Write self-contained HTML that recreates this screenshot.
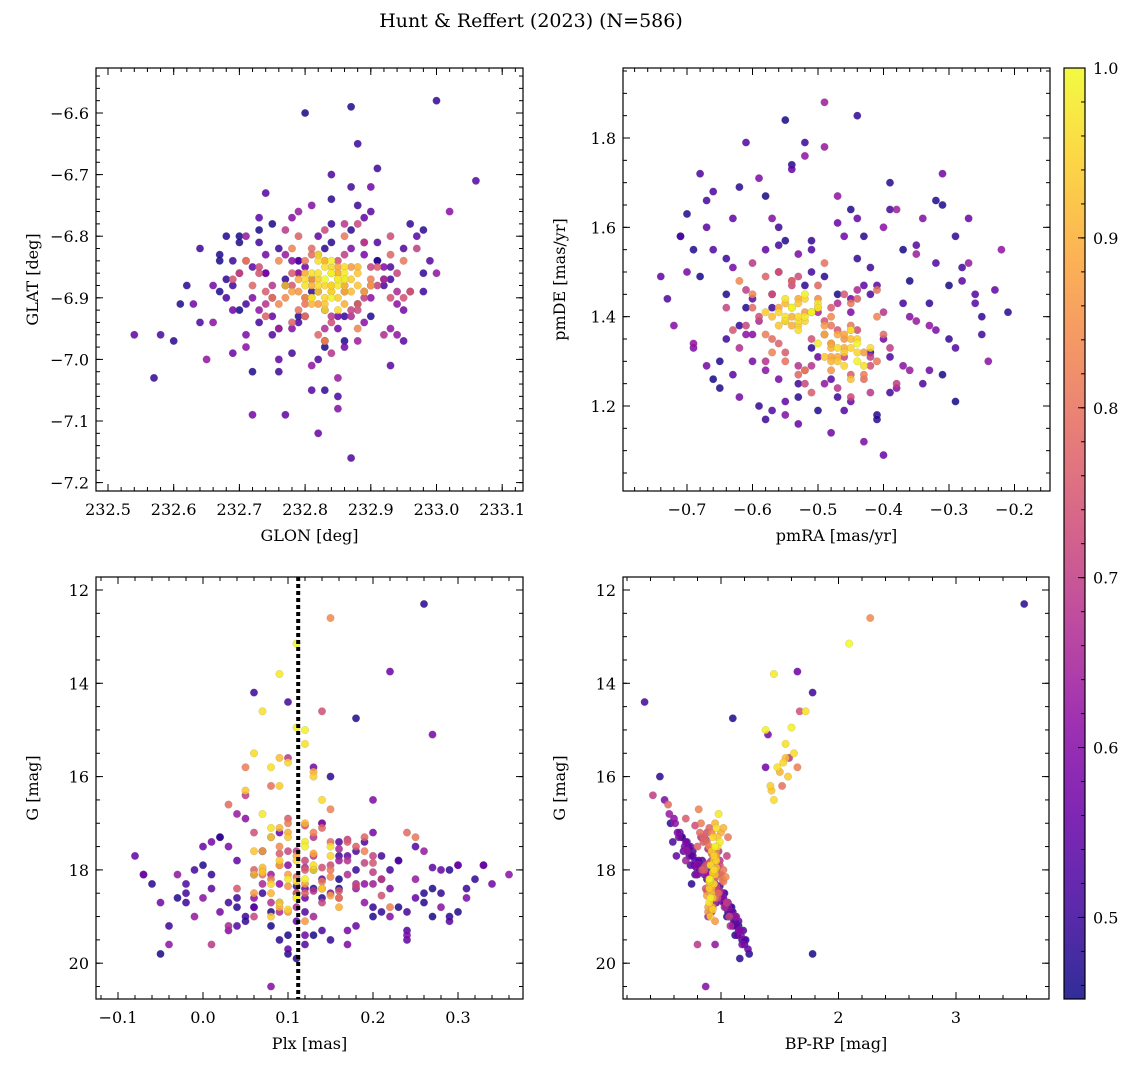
<!DOCTYPE html>
<html><head><meta charset="utf-8">
<style>
html,body{margin:0;padding:0;background:#fff;}
svg{display:block;font-family:"DejaVu Serif","Liberation Serif",serif;}
</style></head>
<body>
<svg id="fig" width="1136" height="1067" viewBox="0 0 1136 1067" xmlns="http://www.w3.org/2000/svg">
<text x="531" y="27" font-size="19" text-anchor="middle">Hunt &amp; Reffert (2023) (N=586)</text>
</svg>
<script>
// ---- batch 1 ----
const prob = [1.0,0.98,0.97,0.99,0.96,0.95,0.97,0.94,0.93,0.99,0.92,0.96,0.98,0.91,0.90,0.95,0.97,0.93,0.89,0.94,0.96,0.92,0.88,0.99,0.95,0.91,0.87,0.93,0.97,0.90,0.86,0.94,0.98,0.89,0.92,0.96,0.88,0.91,0.95,0.87,
0.84,0.82,0.80,0.78,0.76,0.83,0.79,0.74,0.72,0.81,0.77,0.70,0.75,0.73,0.68,0.80,0.71,0.69,0.66,0.78,0.74,0.67,0.82,0.70,0.76,0.65,0.72,0.79,0.68,0.73,0.84,0.66,0.71,0.77,0.69,0.75,0.81,0.67,0.74,0.70,
0.55,0.48,0.62,0.51,0.47,0.58,0.53,0.49,0.60,0.46,0.56,0.52,0.64,0.50,0.47,0.59,0.54,0.48,0.61,0.53,0.49,0.57,0.46,0.63,0.51,0.55,0.48,0.60,0.52,0.47,0.58,0.50,0.62,0.54,0.49,0.56,0.46,0.59,0.51,0.53,0.48,0.61,0.55,0.47,0.57,0.50,0.64,0.52,0.49,0.58,0.46,0.54,0.60,0.48,0.56,0.51,0.63,0.47,0.53,0.59,0.50,0.55,0.48,0.62,0.52,0.46,0.57,0.49,0.61,0.54,0.47,0.58,0.51,0.56,0.48,0.60,0.53,0.46,0.59,0.50,0.55,0.49,0.62,0.52,0.47,0.57,0.54,0.48,0.61,0.50];
const glon = [232.83,232.85,232.81,232.84,232.86,232.82,232.80,232.87,232.83,232.84,232.85,232.82,232.81,232.86,232.79,232.84,232.83,232.88,232.80,232.85,232.82,232.86,232.78,232.84,232.83,232.81,232.87,232.85,232.82,232.89,232.80,232.84,232.86,232.83,232.77,232.85,232.81,232.88,232.84,232.90,
232.76,232.90,232.79,232.93,232.74,232.88,232.81,232.95,232.70,232.86,232.78,232.91,232.83,232.73,232.89,232.80,232.94,232.77,232.87,232.72,232.85,232.92,232.75,232.82,232.96,232.79,232.88,232.71,232.84,232.93,232.76,232.81,232.90,232.74,232.86,232.78,232.95,232.83,232.69,232.89,
232.54,232.60,232.65,232.68,232.70,232.72,232.74,232.76,232.78,232.80,232.82,232.84,232.86,232.88,232.90,232.92,232.95,232.98,233.02,233.06,232.57,232.63,232.67,232.71,232.73,232.77,232.79,232.81,232.85,232.87,232.89,232.91,232.94,232.97,233.00,232.69,232.75,232.83,232.93,232.99,232.62,232.66,232.70,232.72,232.74,232.76,232.80,232.82,232.84,232.86,232.88,232.90,232.78,232.68,232.96,232.73,232.85,232.79,232.91,232.71,232.64,232.75,232.87,232.81,232.93,232.77,232.69,232.83,232.89,232.72,232.86,232.80,232.92,232.74,232.84,232.78,232.95,232.70,232.82,232.88,232.76,232.98,232.73,232.87,232.67,232.90,232.79,232.83,232.94,232.81];
const glat = [-6.87,-6.88,-6.86,-6.90,-6.85,-6.89,-6.88,-6.87,-6.91,-6.84,-6.86,-6.88,-6.90,-6.89,-6.87,-6.85,-6.92,-6.88,-6.86,-6.90,-6.84,-6.87,-6.89,-6.86,-6.88,-6.91,-6.85,-6.87,-6.83,-6.89,-6.90,-6.88,-6.86,-6.84,-6.88,-6.92,-6.87,-6.85,-6.89,-6.88,
-6.84,-6.87,-6.92,-6.83,-6.89,-6.95,-6.82,-6.90,-6.86,-6.80,-6.94,-6.88,-6.97,-6.85,-6.81,-6.91,-6.86,-6.79,-6.93,-6.88,-6.84,-6.96,-6.90,-6.83,-6.89,-6.86,-6.92,-6.84,-6.99,-6.80,-6.91,-6.87,-6.85,-6.93,-6.78,-6.88,-6.84,-6.95,-6.87,-6.90,
-6.96,-6.97,-7.00,-6.90,-6.81,-7.09,-6.73,-6.95,-6.77,-6.60,-7.12,-6.70,-6.88,-6.65,-6.93,-6.85,-6.97,-6.79,-6.76,-6.71,-7.03,-6.91,-6.84,-6.80,-6.94,-7.09,-6.86,-6.75,-7.06,-6.59,-6.83,-6.69,-6.96,-6.80,-6.58,-6.99,-6.78,-6.92,-6.87,-6.84,-6.88,-6.94,-6.86,-7.02,-6.83,-6.82,-6.90,-7.00,-6.78,-6.98,-6.91,-6.76,-6.84,-6.87,-6.89,-6.81,-7.03,-6.93,-6.81,-6.96,-6.82,-6.90,-6.79,-7.01,-6.85,-6.88,-6.92,-7.05,-6.94,-6.85,-6.97,-6.93,-6.88,-6.86,-6.74,-6.95,-6.82,-6.80,-6.89,-6.75,-7.00,-6.86,-6.92,-7.16,-6.89,-6.72,-6.84,-6.97,-6.91,-6.87];
const pmra = [-0.54,-0.52,-0.55,-0.51,-0.53,-0.56,-0.50,-0.53,-0.54,-0.52,-0.57,-0.53,-0.51,-0.55,-0.54,-0.52,-0.50,-0.56,-0.53,-0.58,-0.47,-0.45,-0.48,-0.44,-0.46,-0.49,-0.43,-0.47,-0.45,-0.46,-0.48,-0.44,-0.50,-0.47,-0.45,-0.42,-0.46,-0.48,-0.44,-0.49,
-0.62,-0.58,-0.55,-0.50,-0.45,-0.41,-0.60,-0.56,-0.52,-0.48,-0.44,-0.39,-0.63,-0.57,-0.53,-0.49,-0.46,-0.42,-0.59,-0.54,-0.51,-0.47,-0.43,-0.61,-0.55,-0.50,-0.45,-0.40,-0.58,-0.53,-0.48,-0.44,-0.64,-0.56,-0.52,-0.47,-0.41,-0.57,-0.49,-0.38,
-0.74,-0.71,-0.69,-0.67,-0.65,-0.63,-0.61,-0.59,-0.57,-0.55,-0.53,-0.51,-0.49,-0.47,-0.45,-0.43,-0.41,-0.39,-0.37,-0.35,-0.33,-0.31,-0.29,-0.27,-0.25,-0.23,-0.21,-0.72,-0.68,-0.64,-0.60,-0.56,-0.52,-0.48,-0.44,-0.40,-0.36,-0.32,-0.28,-0.66,-0.62,-0.58,-0.54,-0.50,-0.46,-0.42,-0.38,-0.34,-0.30,-0.70,-0.66,-0.60,-0.55,-0.49,-0.44,-0.39,-0.35,-0.31,-0.26,-0.69,-0.64,-0.58,-0.53,-0.47,-0.42,-0.37,-0.33,-0.29,-0.24,-0.67,-0.61,-0.56,-0.51,-0.45,-0.41,-0.36,-0.32,-0.47,-0.53,-0.58,-0.43,-0.62,-0.49,-0.39,-0.55,-0.45,-0.63,-0.51,-0.40,-0.57];
const pmde = [1.42,1.40,1.44,1.41,1.39,1.41,1.43,1.38,1.42,1.45,1.40,1.37,1.41,1.43,1.40,1.39,1.42,1.38,1.44,1.41,1.33,1.35,1.31,1.34,1.29,1.36,1.32,1.30,1.37,1.33,1.28,1.35,1.34,1.31,1.26,1.33,1.36,1.30,1.32,1.38,
1.48,1.36,1.30,1.47,1.27,1.40,1.42,1.50,1.25,1.38,1.44,1.33,1.37,1.45,1.29,1.52,1.31,1.23,1.39,1.48,1.35,1.43,1.27,1.46,1.32,1.41,1.22,1.36,1.30,1.49,1.40,1.46,1.42,1.34,1.28,1.37,1.30,1.45,1.39,1.25,
1.49,1.58,1.34,1.66,1.24,1.51,1.79,1.20,1.62,1.84,1.16,1.55,1.88,1.22,1.64,1.12,1.47,1.70,1.29,1.56,1.43,1.72,1.21,1.52,1.36,1.46,1.41,1.38,1.72,1.45,1.30,1.60,1.76,1.26,1.53,1.09,1.48,1.37,1.51,1.55,1.69,1.28,1.73,1.19,1.58,1.32,1.64,1.25,1.35,1.50,1.26,1.44,1.18,1.49,1.62,1.23,1.39,1.65,1.45,1.33,1.35,1.55,1.22,1.67,1.45,1.55,1.28,1.58,1.30,1.60,1.42,1.26,1.50,1.21,1.18,1.40,1.52,1.45,1.54,1.17,1.47,1.38,1.25,1.31,1.57,1.44,1.27,1.33,1.60,1.42];
const plx = [0.11,0.09,0.07,0.12,0.06,0.10,0.08,0.13,0.05,0.11,0.09,0.14,0.07,0.12,0.10,0.08,0.15,0.06,0.11,0.09,0.13,0.07,0.10,0.12,0.08,0.14,0.06,0.11,0.09,0.16,0.10,0.08,0.12,0.13,0.07,0.11,0.15,0.09,0.10,0.12,
0.15,0.05,0.08,0.14,0.17,0.19,0.03,0.06,0.12,0.15,0.18,0.21,0.04,0.09,0.13,0.16,0.20,0.01,0.07,0.11,0.14,0.17,0.22,0.05,0.10,0.13,0.18,0.24,0.08,0.12,0.15,0.03,0.19,0.06,0.11,0.16,0.25,0.09,0.14,0.20,
-0.08,-0.06,-0.04,-0.02,0.00,0.02,0.04,0.06,0.08,0.10,0.12,0.14,0.16,0.18,0.20,0.22,0.24,0.26,0.28,0.30,0.32,0.34,-0.05,-0.01,0.03,0.07,0.11,0.15,0.19,0.23,0.27,0.31,-0.03,0.01,0.05,0.09,0.13,0.17,0.21,0.25,0.29,0.00,0.04,0.08,0.12,0.16,0.20,0.24,0.28,-0.07,0.02,0.06,0.10,0.14,0.18,0.22,0.26,0.30,-0.02,0.03,0.07,0.11,0.15,0.19,0.23,0.27,0.33,0.01,0.05,0.09,0.13,0.17,0.21,0.25,0.29,0.08,0.12,0.16,0.20,0.04,0.10,0.14,0.18,0.06,0.26,0.13,0.27,0.09,0.36,0.11];
const gmag = [13.15,13.8,14.6,15.0,15.5,15.7,15.8,16.0,16.3,14.95,15.6,16.5,16.8,17.0,17.2,17.3,17.5,17.6,17.7,17.8,17.9,18.0,18.1,18.2,18.3,18.4,18.5,18.6,18.7,18.8,18.9,19.0,17.4,17.65,17.95,18.25,18.55,17.1,18.85,19.1,
12.6,15.8,16.2,17.1,17.4,17.6,16.6,17.2,17.8,18.0,17.5,18.2,18.4,17.9,17.3,18.6,17.7,19.6,18.3,18.5,17.95,18.1,18.8,16.4,16.9,19.0,18.35,17.2,18.7,17.05,18.15,19.2,17.85,18.0,17.6,18.45,17.3,18.9,14.6,18.05,
17.7,18.3,19.6,18.5,17.9,18.9,19.2,18.1,20.5,19.4,18.6,19.3,17.8,18.0,19.0,18.4,19.5,12.3,18.8,17.9,18.2,18.3,19.8,19.0,18.7,17.6,19.9,18.5,17.4,18.8,15.1,18.4,18.1,18.4,19.1,17.2,18.0,19.6,18.2,17.5,19.0,18.6,17.8,18.9,19.4,17.7,18.3,19.3,18.5,18.1,17.3,18.8,17.9,18.6,19.2,18.0,17.6,18.9,18.3,17.5,18.5,19.1,16.0,18.7,17.8,19.0,17.9,18.1,16.9,18.7,18.4,19.3,17.7,18.6,18.0,17.3,18.9,18.2,16.5,18.6,19.7,17.0,18.4,18.8,18.7,15.8,17.95,19.5,18.1,18.35];
const bprp = [2.09,1.45,1.72,1.38,1.62,1.53,1.48,1.57,1.43,1.60,1.55,1.45,0.98,0.95,1.00,0.93,0.97,0.92,0.96,0.94,0.91,0.95,0.93,0.90,0.94,0.92,0.91,0.93,0.90,0.92,0.89,0.91,0.99,0.94,0.96,0.90,0.88,1.02,0.93,0.95,
2.27,1.65,1.52,0.90,0.85,0.96,0.55,0.88,0.92,1.02,0.80,0.94,0.87,0.99,0.83,0.95,1.05,0.80,0.91,0.97,0.86,1.00,0.93,0.42,0.70,0.89,0.96,0.82,0.94,0.78,1.04,1.08,0.90,0.84,0.98,0.88,1.06,0.92,1.67,0.95,
0.62,0.75,0.95,1.02,0.83,1.08,1.10,0.78,0.87,1.12,0.99,1.15,0.70,0.85,1.05,0.92,1.20,3.58,1.06,0.74,0.88,0.93,1.78,1.13,0.96,0.68,1.16,1.01,0.59,1.09,1.40,0.90,0.79,0.97,1.11,0.65,0.84,1.18,0.91,0.72,1.07,1.00,0.81,1.10,1.14,0.73,0.94,1.19,1.03,0.86,0.66,1.04,0.80,0.98,1.13,0.82,0.71,1.08,0.95,0.69,1.00,1.15,0.48,1.06,0.84,1.12,0.77,0.89,0.60,1.05,0.97,1.17,0.76,1.02,0.88,0.64,1.09,0.93,0.52,1.01,1.23,0.57,0.96,1.08,1.04,1.38,0.79,1.21,0.90,0.99];
// ---- batch 2 ----
const prob2 = [0.97,0.93,0.99,0.90,0.95,0.88,0.96,0.92,0.98,0.87,0.94,0.91,0.99,0.89,0.95,0.93,0.86,0.97,0.90,0.94,
0.83,0.79,0.72,0.68,0.76,0.81,0.70,0.74,0.66,0.78,0.84,0.69,0.73,0.80,0.67,0.77,0.71,0.82,0.65,0.75,0.79,0.68,0.72,0.83,0.70,0.76,0.66,0.81,0.74,0.69,
0.52,0.47,0.58,0.50,0.61,0.46,0.55,0.49,0.63,0.53,0.48,0.57,0.51,0.60,0.46,0.54,0.49,0.62,0.52,0.47,0.59,0.50,0.56,0.48,0.64,0.53,0.46,0.58,0.51,0.55,0.49,0.61,0.47,0.54,0.52,0.60,0.48,0.57,0.50,0.63,0.46,0.55,0.53,0.49,0.59,0.51,0.62,0.47,0.56,0.50];
const glon2 = [232.82,232.84,232.86,232.81,232.83,232.85,232.80,232.87,232.84,232.82,232.86,232.83,232.85,232.81,232.84,232.88,232.79,232.83,232.86,232.82,
232.78,232.88,232.83,232.75,232.91,232.80,232.86,232.73,232.94,232.82,232.77,232.89,232.84,232.71,232.92,232.79,232.87,232.85,232.76,232.90,232.81,232.74,232.88,232.83,232.97,232.78,232.86,232.80,232.93,232.84,
232.58,232.61,232.66,232.69,232.71,232.73,232.75,232.77,232.79,232.81,232.83,232.85,232.87,232.89,232.91,232.93,232.96,233.00,232.64,232.68,232.72,232.76,232.80,232.84,232.88,232.92,232.70,232.74,232.78,232.82,232.86,232.90,232.67,232.73,232.79,232.85,232.91,232.95,232.69,232.77,232.83,232.89,232.75,232.81,232.87,232.71,232.93,232.79,232.85,232.98];
const glat2 = [-6.86,-6.89,-6.87,-6.88,-6.90,-6.85,-6.87,-6.89,-6.86,-6.91,-6.88,-6.84,-6.87,-6.90,-6.88,-6.86,-6.89,-6.85,-6.91,-6.87,
-6.82,-6.91,-6.79,-6.88,-6.85,-6.93,-6.83,-6.86,-6.89,-6.96,-6.90,-6.81,-6.94,-6.84,-6.87,-6.80,-6.92,-6.86,-6.95,-6.88,-6.83,-6.91,-6.78,-6.97,-6.82,-6.86,-6.89,-6.84,-6.90,-6.93,
-6.96,-6.91,-6.88,-6.84,-6.98,-6.79,-6.93,-6.87,-6.76,-7.05,-6.82,-6.95,-6.72,-6.89,-6.84,-7.01,-6.78,-6.86,-6.94,-6.80,-6.90,-7.02,-6.85,-6.81,-6.97,-6.87,-6.92,-6.86,-6.99,-6.80,-6.93,-6.90,-6.83,-6.77,-6.94,-7.08,-6.84,-6.92,-6.88,-6.83,-6.98,-6.77,-6.96,-6.89,-6.82,-6.91,-6.95,-6.84,-6.93,-6.89];
const pmra2 = [-0.55,-0.53,-0.51,-0.54,-0.52,-0.56,-0.53,-0.50,-0.55,-0.52,-0.46,-0.48,-0.44,-0.47,-0.45,-0.49,-0.46,-0.43,-0.48,-0.45,
-0.60,-0.57,-0.54,-0.51,-0.48,-0.45,-0.42,-0.59,-0.56,-0.53,-0.50,-0.47,-0.44,-0.41,-0.62,-0.58,-0.55,-0.52,-0.49,-0.46,-0.43,-0.40,-0.61,-0.57,-0.54,-0.51,-0.48,-0.45,-0.42,-0.60,
-0.73,-0.70,-0.67,-0.64,-0.61,-0.58,-0.55,-0.52,-0.49,-0.46,-0.43,-0.40,-0.37,-0.34,-0.31,-0.28,-0.25,-0.22,-0.71,-0.65,-0.59,-0.53,-0.47,-0.41,-0.35,-0.29,-0.68,-0.62,-0.56,-0.50,-0.44,-0.38,-0.32,-0.26,-0.66,-0.60,-0.54,-0.48,-0.42,-0.36,-0.30,-0.63,-0.57,-0.51,-0.45,-0.39,-0.33,-0.69,-0.27,-0.52];
const pmde2 = [1.40,1.43,1.41,1.38,1.44,1.42,1.40,1.42,1.39,1.41,1.32,1.34,1.30,1.36,1.33,1.31,1.35,1.29,1.33,1.37,
1.45,1.35,1.47,1.29,1.42,1.38,1.31,1.40,1.50,1.27,1.44,1.24,1.37,1.46,1.33,1.49,1.39,1.28,1.36,1.45,1.26,1.41,1.38,1.32,1.48,1.23,1.34,1.43,1.29,1.52,
1.44,1.63,1.29,1.53,1.36,1.67,1.21,1.47,1.78,1.19,1.58,1.35,1.43,1.62,1.27,1.48,1.40,1.55,1.58,1.30,1.71,1.25,1.61,1.17,1.54,1.33,1.49,1.22,1.56,1.31,1.85,1.24,1.66,1.43,1.68,1.36,1.74,1.14,1.51,1.28,1.47,1.62,1.19,1.57,1.41,1.64,1.38,1.55,1.62,1.79];
const plx2 = [0.08,0.10,0.12,0.07,0.11,0.09,0.13,0.06,0.10,0.12,0.14,0.08,0.11,0.09,0.15,0.07,0.10,0.12,0.13,0.09,
0.13,0.15,0.10,0.17,0.12,0.08,0.14,0.16,0.11,0.19,0.09,0.13,0.15,0.07,0.18,0.12,0.14,0.10,0.16,0.20,0.11,0.13,0.06,0.15,0.17,0.09,0.12,0.14,0.21,0.10,
-0.07,-0.03,0.01,0.05,0.09,0.13,0.17,0.21,0.25,0.29,0.33,-0.05,-0.01,0.03,0.07,0.11,0.15,0.19,0.23,0.27,0.31,-0.04,0.00,0.04,0.08,0.12,0.16,0.20,0.24,0.28,0.02,0.06,0.10,0.14,0.18,0.22,0.26,0.30,-0.02,0.04,0.08,0.12,0.16,0.20,0.24,0.10,0.14,0.18,0.22,0.06];
const gmag2 = [17.1,17.3,17.5,17.6,17.8,17.9,18.0,18.1,18.2,18.3,18.4,18.5,18.6,18.8,17.7,18.05,18.35,15.3,15.9,16.2,
17.2,17.4,17.6,17.8,18.0,18.2,18.4,18.6,18.8,17.3,17.5,17.7,17.9,18.1,18.3,18.5,18.7,17.0,17.55,17.85,18.15,18.45,19.0,16.7,17.35,17.65,17.95,18.25,18.55,15.6,
18.1,18.6,17.4,19.0,18.3,19.4,17.7,18.9,18.2,19.1,17.9,18.7,18.0,19.3,17.6,18.5,19.5,18.3,17.8,18.4,18.6,19.2,17.5,18.8,18.1,19.6,18.4,17.2,18.9,18.0,17.3,18.6,19.8,18.2,17.6,19.0,18.5,17.9,18.7,16.8,19.2,18.4,17.4,18.8,19.4,14.4,17.0,14.75,13.75,14.2];
const bprp2 = [0.96,0.97,0.95,0.93,0.96,0.92,0.94,0.95,0.91,0.93,0.90,0.92,0.91,0.89,0.94,0.93,0.90,1.55,1.50,1.42,
0.92,0.88,0.95,0.99,0.86,1.01,0.93,0.97,1.03,0.85,0.90,0.96,0.87,1.00,0.94,0.98,1.05,0.83,0.89,0.91,0.95,0.99,1.07,0.81,0.87,0.92,0.97,1.02,0.96,1.58,
0.80,0.98,0.70,1.10,0.92,1.14,0.75,1.06,0.89,1.12,0.82,1.02,0.85,1.16,0.72,0.99,1.18,0.93,0.78,0.96,1.00,1.13,0.74,1.05,0.88,1.20,0.95,0.63,1.09,0.84,0.67,1.01,1.24,0.91,0.76,1.11,0.97,0.81,1.03,0.56,1.15,0.94,0.71,1.07,1.17,0.35,0.61,1.10,1.65,1.78];
const plxRef = 0.112;
const cbTicks = [0.5,0.6,0.7,0.8,0.9,1.0];

const NS="http://www.w3.org/2000/svg";
const svg=document.getElementById('fig');
function mk(tag,attrs,parent){const e=document.createElementNS(NS,tag);for(const k in attrs)e.setAttribute(k,attrs[k]);(parent||svg).appendChild(e);return e;}
const plasma=[[13,8,135],[65,4,157],[106,0,168],[143,13,164],[177,42,144],[204,71,120],[225,100,98],[242,132,75],[252,166,54],[252,206,37],[240,249,33]];
const VMIN=0.452,VMAX=1.0;
function cmap(v){let t=(v-VMIN)/(VMAX-VMIN);t=Math.max(0,Math.min(1,t));const f=t*10,i=Math.min(9,Math.floor(f)),r=f-i;const a=plasma[i],b=plasma[i+1];return `rgb(${Math.round(a[0]+(b[0]-a[0])*r)},${Math.round(a[1]+(b[1]-a[1])*r)},${Math.round(a[2]+(b[2]-a[2])*r)})`;}

// merge batches (each truncated to its own consistent length)
function batch(arrs){const n=Math.min(...arrs.map(a=>a.length));return arrs.map(a=>a.slice(0,n));}
const B1=batch([prob,glon,glat,pmra,pmde,plx,gmag,bprp]);
const B2=batch([prob2,glon2,glat2,pmra2,pmde2,plx2,gmag2,bprp2]);
const P=B1[0].concat(B2[0]), GL=B1[1].concat(B2[1]), GB=B1[2].concat(B2[2]), PA=B1[3].concat(B2[3]), PD=B1[4].concat(B2[4]), PX=B1[5].concat(B2[5]), GM=B1[6].concat(B2[6]), BR=B1[7].concat(B2[7]);

function lin(d0,d1,r0,r1){return v=>r0+(v-d0)/(d1-d0)*(r1-r0);}
const panels=[
 {name:'glon-glat',L:96,R:523,T:68,B:491,x:lin(232.5,233.0,108,436.5),y:lin(-6.6,-7.2,113,482.6),xs:GL,ys:GB,
  xmaj:[232.5,232.6,232.7,232.8,232.9,233.0,233.1],xmin:0.02,xlo:232.48,xhi:233.13,xdec:1,
  ymaj:[-6.6,-6.7,-6.8,-6.9,-7.0,-7.1,-7.2],ymin:0.02,ylo:-7.21,yhi:-6.53,ydec:1,xl:'GLON [deg]',yl:'GLAT [deg]'},
 {name:'pmra-pmde',L:623,R:1050,T:68,B:491,x:lin(-0.7,-0.2,687,1014.5),y:lin(1.8,1.2,138,406),xs:PA,ys:PD,
  xmaj:[-0.7,-0.6,-0.5,-0.4,-0.3,-0.2],xmin:0.02,xlo:-0.79,xhi:-0.15,xdec:1,
  ymaj:[1.2,1.4,1.6,1.8],ymin:0.05,ylo:1.01,yhi:1.95,ydec:1,xl:'pmRA [mas/yr]',yl:'pmDE [mas/yr]'},
 {name:'plx-g',L:96,R:523,T:577,B:999,x:lin(0,0.1,203,288),y:lin(12,20,590,963.2),xs:PX,ys:GM,
  xmaj:[-0.1,0.0,0.1,0.2,0.3],xmin:0.02,xlo:-0.12,xhi:0.37,xdec:1,
  ymaj:[12,14,16,18,20],ymin:0.5,ylo:11.8,yhi:20.7,ydec:0,xl:'Plx [mas]',yl:'G [mag]'},
 {name:'bprp-g',L:623,R:1049,T:577,B:999,x:lin(1,2,721,838.5),y:lin(12,20,590,963.2),xs:BR,ys:GM,
  xmaj:[1,2,3],xmin:0.2,xlo:0.2,xhi:3.78,xdec:0,
  ymaj:[12,14,16,18,20],ymin:0.5,ylo:11.8,yhi:20.7,ydec:0,xl:'BP-RP [mag]',yl:'G [mag]'}
];
function fmt(v,d){const s=Math.abs(v).toFixed(d);return (v<-1e-9?'\u2212':'')+s;}
const N=P.length;
const order=[...Array(N).keys()].sort((a,b)=>P[a]-P[b]);

panels.forEach((p,pi)=>{
  const g=mk('g',{});
  
  
  const cid='clip'+pi;
  const cp=mk('clipPath',{id:cid},g);mk('rect',{x:p.L,y:p.T,width:p.R-p.L,height:p.B-p.T},cp);
  const pts=mk('g',{'clip-path':`url(#${cid})`},g);
  
  
  order.forEach(i=>{
    const c=mk('circle',{cx:p.x(p.xs[i]).toFixed(1),cy:p.y(p.ys[i]).toFixed(1),r:3.8,fill:cmap(P[i]),'fill-opacity':0.85,stroke:'#777','stroke-opacity':0.4,'stroke-width':0.4},pts);
    
    
  });
  if(pi===2){
    const ln=mk('line',{x1:p.x(plxRef),x2:p.x(plxRef),y1:p.T,y2:p.B,stroke:'#000','stroke-width':4,'stroke-dasharray':'4 3'},g);
    
    
  }
  const tk=mk('g',{stroke:'#000','stroke-width':1},g);
  
  
  const start=Math.ceil(p.xlo/p.xmin-1e-6);
  for(let k=start;k*p.xmin<=p.xhi+1e-9;k++){const v=k*p.xmin,X=p.x(v);if(X<p.L||X>p.R)continue;
    mk('line',{x1:X,x2:X,y1:p.B,y2:p.B-4},tk);mk('line',{x1:X,x2:X,y1:p.T,y2:p.T+4},tk);}
  const ys=Math.ceil(Math.min(p.ylo,p.yhi)/p.ymin-1e-6);
  for(let k=ys;k*p.ymin<=Math.max(p.ylo,p.yhi)+1e-9;k++){const v=k*p.ymin,Y=p.y(v);if(Y<p.T||Y>p.B)continue;
    mk('line',{x1:p.L,x2:p.L+4,y1:Y,y2:Y},tk);mk('line',{x1:p.R,x2:p.R-4,y1:Y,y2:Y},tk);}
  p.xmaj.forEach(v=>{const X=p.x(v);mk('line',{x1:X,x2:X,y1:p.B,y2:p.B-7},tk);mk('line',{x1:X,x2:X,y1:p.T,y2:p.T+7},tk);
    const t=mk('text',{x:X,y:p.B+24,'font-size':16,'text-anchor':'middle',stroke:'none'},g);t.textContent=fmt(v,p.xdec);
    
    });
  p.ymaj.forEach(v=>{const Y=p.y(v);mk('line',{x1:p.L,x2:p.L+7,y1:Y,y2:Y},tk);mk('line',{x1:p.R,x2:p.R-7,y1:Y,y2:Y},tk);
    const t=mk('text',{x:p.L-7,y:Y+6,'font-size':16,'text-anchor':'end'},g);t.textContent=fmt(v,p.ydec);
    
    });
  const fr=mk('rect',{x:p.L,y:p.T,width:p.R-p.L,height:p.B-p.T,fill:'none',stroke:'#000','stroke-width':1.2},g);
  
  
  const xl=mk('text',{x:(p.L+p.R)/2,y:p.B+50,'font-size':16,'text-anchor':'middle'},g);xl.textContent=p.xl;
  
  
  const yx=p.L-58,yy=(p.T+p.B)/2;
  const yl=mk('text',{x:yx,y:yy,'font-size':16,'text-anchor':'middle',transform:`rotate(-90 ${yx} ${yy})`},g);yl.textContent=p.yl;
  
  
});

const cb=mk('g',{});


const CL=1064,CR=1085,CT=68,CB=999;
const cy=lin(VMIN,VMAX,CB,CT);
const defs=mk('defs',{},cb);
const grad=mk('linearGradient',{id:'cbg',x1:0,y1:1,x2:0,y2:0},defs);
for(let i=0;i<=20;i++){const v=VMIN+(VMAX-VMIN)*i/20;mk('stop',{offset:(i/20),'stop-color':cmap(v),'stop-opacity':0.85},grad);}
mk('rect',{x:CL,y:CT,width:CR-CL,height:CB-CT,fill:'url(#cbg)',stroke:'#000','stroke-width':1.2},cb);
for(let v=0.46;v<=1.0001;v+=0.02){const Y=cy(v);mk('line',{x1:CR,x2:CR-4,y1:Y,y2:Y,stroke:'#000'},cb);}
cbTicks.forEach(v=>{const Y=cy(v);mk('line',{x1:CR,x2:CR-7,y1:Y,y2:Y,stroke:'#000'},cb);
  const t=mk('text',{x:CR+8,y:Y+6,'font-size':16},cb);t.textContent=v.toFixed(1);
  
  });
</script>
</body></html>
